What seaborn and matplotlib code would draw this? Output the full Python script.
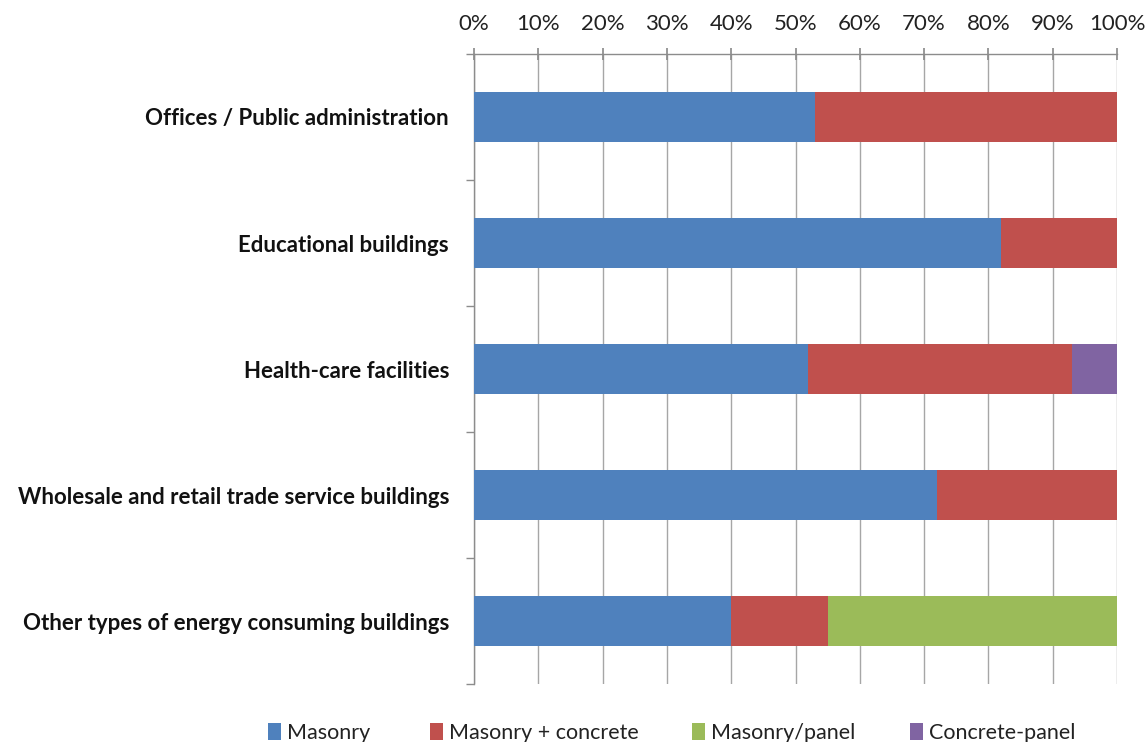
import numpy as np
import pandas as pd
import matplotlib
matplotlib.use("Agg")
import matplotlib.pyplot as plt
import seaborn as sns
from matplotlib.patches import Patch
from matplotlib.ticker import FixedLocator, PercentFormatter

categories = [
    "Offices / Public administration",
    "Educational buildings",
    "Health-care facilities",
    "Wholesale and retail trade service buildings",
    "Other types of energy consuming buildings",
]
series_names = ["Masonry", "Masonry + concrete", "Masonry/panel", "Concrete-panel"]
masonry = [53, 82, 52, 72, 40]
masonry_concrete = [47, 18, 41, 28, 15]
masonry_panel = [0, 0, 0, 0, 45]
concrete_panel = [0, 0, 7, 0, 0]
colors = ["#4F81BD", "#C0504D", "#9BBB59", "#8064A2"]

sns.set_theme(style="white")
plt.rcParams["font.family"] = ["Lato", "DejaVu Sans"]

values = np.array([masonry, masonry_concrete, masonry_panel, concrete_panel], dtype=float)
cumulative = np.cumsum(values, axis=0)

fig = plt.figure(figsize=(11.48, 7.42), dpi=100)
ax = fig.add_axes([474 / 1148, 1 - 684 / 742, (1117 - 474) / 1148, (684 - 54) / 742])

# Stacked bars: draw cumulative totals from the outermost segment inward
for i in range(len(series_names) - 1, -1, -1):
    df = pd.DataFrame({"category": categories, "value": cumulative[i]})
    sns.barplot(data=df, x="value", y="category", orient="h", color=colors[i],
                width=0.4, saturation=1, edgecolor="none", ax=ax, zorder=3)

ax.set_xlim(0, 100)
ax.set_ylim(len(categories) - 0.5, -0.5)
ax.set_xlabel("")
ax.set_ylabel("")

ax.xaxis.tick_top()
ax.xaxis.set_major_locator(FixedLocator(np.arange(0, 101, 10)))
ax.xaxis.set_major_formatter(PercentFormatter(decimals=0))
ax.tick_params(axis="x", which="major", top=True, direction="inout", length=9,
               color="#8c8c8c", labelsize=16, pad=10, labelcolor="#222222")
ax.grid(axis="x", color="#a6a6a6", linewidth=1, zorder=0)
ax.set_axisbelow(True)

for lbl in ax.get_yticklabels():
    lbl.set_fontweight("bold")
ax.tick_params(axis="y", which="major", length=0, labelsize=16, pad=18, labelcolor="#111111")
ax.yaxis.set_minor_locator(FixedLocator(np.arange(-0.5, len(categories), 1)))
ax.tick_params(axis="y", which="minor", left=True, length=6, color="#8c8c8c", width=1)

for side in ["right", "bottom"]:
    ax.spines[side].set_visible(False)
for side in ["left", "top"]:
    ax.spines[side].set_color("#8c8c8c")
    ax.spines[side].set_linewidth(1)

# Legend entries in evenly spread slots along the bottom edge
legend_x = [268, 430, 692, 910]
for name, c, x in zip(series_names, colors, legend_x):
    fig.legend([Patch(facecolor=c, edgecolor="none")], [name], loc="center left",
               bbox_to_anchor=(x / 1148, 1 - 733 / 742), frameon=False, fontsize=15.5,
               handlelength=0.6, handleheight=0.8, handletextpad=0.3,
               borderpad=0, borderaxespad=0, labelcolor="#222222")

fig.savefig("out.png", dpi=100)
